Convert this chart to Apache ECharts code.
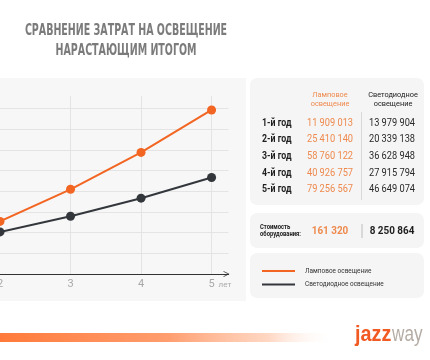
<!DOCTYPE html>
<html>
<head>
<meta charset="utf-8">
<script src="https://cdn.jsdelivr.net/npm/echarts@6/dist/echarts.min.js"></script>
<style>html,body{margin:0;padding:0;background:#fff;}#c{width:430px;height:360px;}</style>
</head>
<body>
<div id="c"></div>
<script>
// ---- data ----
const titleLines = ['СРАВНЕНИЕ ЗАТРАТ НА ОСВЕЩЕНИЕ', 'НАРАСТАЮЩИМ ИТОГОМ'];
const years = [1, 2, 3, 4, 5];
const lampSeries = [11909013, 25410140, 40926757, 58760122, 79256567];
const ledSeries = [13979904, 20339138, 27915794, 36628948, 46649074];
const seriesNames = ['Ламповое освещение', 'Светодиодное освещение'];
const rowLabels = ['1-й год', '2-й год', '3-й год', '4-й год', '5-й год'];
const tableLamp = [11909013, 25410140, 58760122, 40926757, 79256567];
const tableLed = [13979904, 20339138, 36628948, 27915794, 46649074];
const headerLamp = ['Ламповое', 'освещение'];
const headerLed = ['Светодиодное', 'освещение'];
const equipLabel = ['Стоимость', 'оборудования:'];
const equipLamp = 161320;
const equipLed = 8250864;
const xUnit = 'лет';

// ---- style ----
const ORANGE = '#f26522';
const ORANGE_T = '#ee8a4e';
const DARK = '#33373c';
const fmt = v => String(v).replace(/\B(?=(\d{3})+(?!\d))/g, ' ');

const g = [];
// panels
g.push({type:'rect', z:-5, shape:{x:0,y:78,width:246,height:223}, style:{fill:'#f7f7f7'}});
g.push({type:'rect', z:-5, shape:{x:250,y:78,width:174,height:127,r:7}, style:{fill:'#f5f5f5'}});
g.push({type:'rect', z:-5, shape:{x:250,y:213,width:174,height:35,r:7}, style:{fill:'#f5f5f5'}});
g.push({type:'rect', z:-5, shape:{x:250,y:253,width:174,height:45,r:7}, style:{fill:'#f5f5f5'}});
// title
titleLines.forEach((t, i) => g.push({type:'text', x:126, y:31 + i*20, scaleX:0.66,
  style:{text:t, fill:'#7b7b7b', font:'bold 16px "DejaVu Sans Condensed", "DejaVu Sans"', align:'center', verticalAlign:'middle'}}));
// table header
headerLamp.forEach((t, i) => g.push({type:'text', x:330, y:95 + i*8.5, scaleX:0.92,
  style:{text:t, fill:ORANGE_T, font:'8px Roboto', align:'center', verticalAlign:'middle'}}));
headerLed.forEach((t, i) => g.push({type:'text', x:393, y:95 + i*8.5, scaleX:0.92,
  style:{text:t, fill:'#222', font:'8px Roboto', align:'center', verticalAlign:'middle'}}));
// rows
rowLabels.forEach((t, i) => {
  const y = 123 + i*16.7;
  g.push({type:'text', x:262, y, scaleX:0.88, style:{text:t, fill:'#1e1e1e', font:'bold 10px Roboto', align:'left', verticalAlign:'middle'}});
  g.push({type:'text', x:330, y, scaleX:0.88, style:{text:fmt(tableLamp[i]), fill:ORANGE_T, font:'10.5px Roboto', align:'center', verticalAlign:'middle'}});
  g.push({type:'text', x:392, y, scaleX:0.88, style:{text:fmt(tableLed[i]), fill:'#2a2a2a', font:'10.5px Roboto', align:'center', verticalAlign:'middle'}});
});
g.push({type:'line', shape:{x1:361.5,y1:112,x2:361.5,y2:200}, style:{stroke:'#d8d8d8', lineWidth:1}});
// equipment
equipLabel.forEach((t, i) => g.push({type:'text', x:260, y:227.5 + i*7, scaleX:0.9,
  style:{text:t, fill:'#222', font:'bold 6.5px Roboto', align:'left', verticalAlign:'middle'}}));
g.push({type:'text', x:330, y:231, scaleX:0.9, style:{text:fmt(equipLamp), fill:ORANGE_T, font:'bold 11px Roboto', align:'center', verticalAlign:'middle'}});
g.push({type:'text', x:392, y:231, scaleX:0.9, style:{text:fmt(equipLed), fill:'#1e1e1e', font:'bold 11px Roboto', align:'center', verticalAlign:'middle'}});
g.push({type:'line', shape:{x1:362,y1:224,x2:362,y2:238}, style:{stroke:'#bdbdbd', lineWidth:1}});
// legend
[ORANGE, DARK].forEach((c, i) => {
  const y = 271 + i*13.5;
  g.push({type:'line', shape:{x1:262,y1:y,x2:295,y2:y}, style:{stroke:c, lineWidth:2}});
  g.push({type:'text', x:305, y, scaleX:0.92, style:{text:seriesNames[i], fill:'#333', font:'7px Roboto', align:'left', verticalAlign:'middle'}});
});
// bottom bar
g.push({type:'rect', shape:{x:0,y:333,width:335,height:9}, style:{fill:{type:'linear',x:0,y:0,x2:1,y2:0,colorStops:[
  {offset:0,color:'rgba(255,122,58,1)'},{offset:0.5,color:'rgba(255,140,85,0.85)'},{offset:0.8,color:'rgba(255,175,135,0.5)'},{offset:1,color:'rgba(255,255,255,0)'}]}}});
// logo
g.push({type:'text', x:355, y:346, scaleX:0.9, style:{text:'jazz', fill:'#f15a22', font:'bold 22px "Liberation Sans"', align:'left', verticalAlign:'bottom'}});
g.push({type:'text', x:392, y:346, scaleX:0.78, style:{text:'way', fill:'#b5aca4', font:'22px "Liberation Sans"', align:'left', verticalAlign:'bottom'}});

const chart = echarts.init(document.getElementById('c'), null, {renderer:'canvas'});
chart.setOption({
  backgroundColor:'#fff',
  animation:false,
  grid:{left:0, right:201.5, top:96, bottom:86, outerBoundsMode:'none', containLabel:false},
  xAxis:{type:'value', min:2, max:5.24, interval:1,
    name:xUnit, nameLocation:'end', nameGap:0,
    nameTextStyle:{color:'#aaa', fontSize:8, fontFamily:'Roboto', align:'right', verticalAlign:'top', padding:[7,0,0,0]},
    axisLine:{lineStyle:{color:'#333', width:1.2}, symbol:['none','path://M0,10 L5,0 L10,10 L8.6,10 L5,2.6 L1.4,10 Z'], symbolSize:[6,7], symbolOffset:[0,-2]},
    axisTick:{show:false},
    axisLabel:{color:'#a8a8a8', fontSize:11, fontFamily:'Roboto', margin:5,
      formatter:v => Number.isInteger(v) && v < 5.5 ? String(v) : ''},
    splitLine:{show:true, showMaxLine:false, showMinLine:false, lineStyle:{color:'#e4e4e4', width:1}}
  },
  yAxis:{type:'value', min:0, max:86000000, interval:10000000,
    axisLine:{show:false}, axisTick:{show:false}, axisLabel:{show:false},
    splitLine:{show:true, showMaxLine:false, showMinLine:false, lineStyle:{color:'#e4e4e4', width:1}}
  },
  series:[
    {name:seriesNames[0], type:'line', data:years.map((x,i)=>[x, lampSeries[i]]), symbol:'circle', symbolSize:9,
      lineStyle:{color:ORANGE, width:2}, itemStyle:{color:ORANGE}, z:3},
    {name:seriesNames[1], type:'line', data:years.map((x,i)=>[x, ledSeries[i]]), symbol:'circle', symbolSize:9,
      lineStyle:{color:DARK, width:2}, itemStyle:{color:DARK}, z:2}
  ],
  graphic:g
});
</script>
</body>
</html>
